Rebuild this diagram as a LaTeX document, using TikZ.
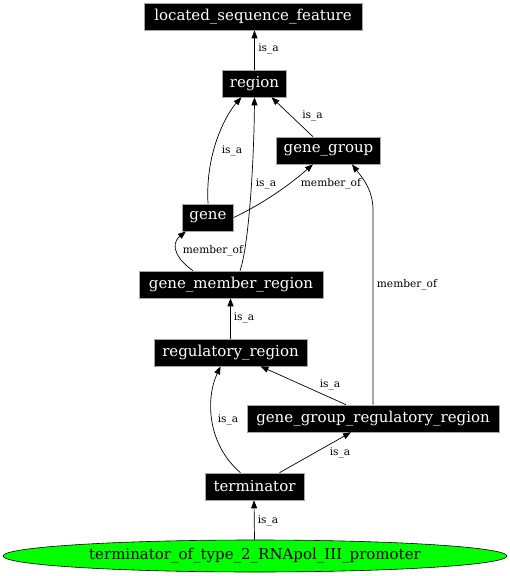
\documentclass[tikz,border=0pt]{standalone}
\usepackage{fontspec}
\usetikzlibrary{arrows.meta,shapes.geometric,calc}
\newfontfamily\nodefont{DejaVu Serif}
\begin{document}
\begin{tikzpicture}[x=1pt,y=-1pt,
  box/.style={rectangle,fill=black,draw=gray!70,line width=0.6pt,text=white,inner sep=0pt,minimum height=27pt,font=\nodefont\fontsize{15}{18}\selectfont},
  edge/.style={draw=black,line width=0.7pt,-{Triangle[length=8pt,width=6pt]}},
  lbl/.style={inner sep=0pt,font=\nodefont\fontsize{10.6}{12}\selectfont}]
\useasboundingbox (0,0) rectangle (510,576);
\node[box,minimum width=218pt] (lsf) at (253,16.5) {located\_sequence\_feature};
\node[box,minimum width=64pt] (region) at (254.5,83.5) {region};
\node[box,minimum width=104pt] (gg) at (328.5,150.5) {gene\_group};
\node[box,minimum width=51pt] (gene) at (208,217.5) {gene};
\node[box,minimum width=184pt] (gmr) at (231,284.5) {gene\_member\_region};
\node[box,minimum width=153pt] (rr) at (230.5,352.5) {regulatory\_region};
\node[box,minimum width=252pt] (ggrr) at (373,418.5) {gene\_group\_regulatory\_region};
\node[box,minimum width=99pt] (term) at (254.5,486.5) {terminator};
\node[ellipse,fill={rgb,255:red,0;green,255;blue,0},draw=black,line width=0.6pt,inner sep=0pt,minimum width=504pt,minimum height=32pt,font=\nodefont\fontsize{15}{18}\selectfont] (tp) at (255,556) {terminator\_of\_type\_2\_RNApol\_III\_promoter};

\draw[edge] (region.north) -- (lsf.south -| region.north);
\draw[edge] ([xshift=-15.5pt]gg.north) -- ([xshift=17pt]region.south);
\draw[edge] (gene.north) .. controls (205,150) and (228,112) .. ([xshift=-13pt]region.south);
\draw[edge] ([xshift=9pt]gmr.north) .. controls (249,245) and (254,160) .. (region.south);
\draw[edge] (gene.east) .. controls (270,200) and (295,180) .. ([xshift=-15.5pt]gg.south);
\draw[edge] ([xshift=-38pt]gmr.north) .. controls (180,262) and (168,246) .. ([xshift=-22pt]gene.south);
\draw[edge] (rr.north) -- (gmr.south -| rr.north);
\draw[edge] (ggrr.north) -- (373,210) .. controls (373,188) and (360,175) .. ([xshift=23.5pt]gg.south);
\draw[edge] ([xshift=-27pt]ggrr.north) -- ([xshift=30pt]rr.south);
\draw[edge] ([xshift=-14pt]term.north) .. controls (208,445) and (205,400) .. ([xshift=-10pt]rr.south);
\draw[edge] ([xshift=25pt]term.north) -- ([xshift=-22pt]ggrr.south);
\draw[edge] ([xshift=-0.5pt]tp.north) -- ([xshift=-0.5pt]term.south);

\node[lbl] (l1) at (268.5,49) {is\_a};
\node[lbl] (l2) at (312.5,116) {is\_a};
\node[lbl] (l3) at (232,151) {is\_a};
\node[lbl] (l4) at (266,184) {is\_a};
\node[lbl] (l5) at (331,184) {member\_of};
\node[lbl] (l6) at (213,251) {member\_of};
\node[lbl] (l7) at (407,285) {member\_of};
\node[lbl] (l8) at (244,318) {is\_a};
\node[lbl] (l9) at (330,385) {is\_a};
\node[lbl] (l10) at (228,420) {is\_a};
\node[lbl] (l11) at (340,453) {is\_a};
\node[lbl] (l12) at (268,521) {is\_a};
\end{tikzpicture}
\end{document}
